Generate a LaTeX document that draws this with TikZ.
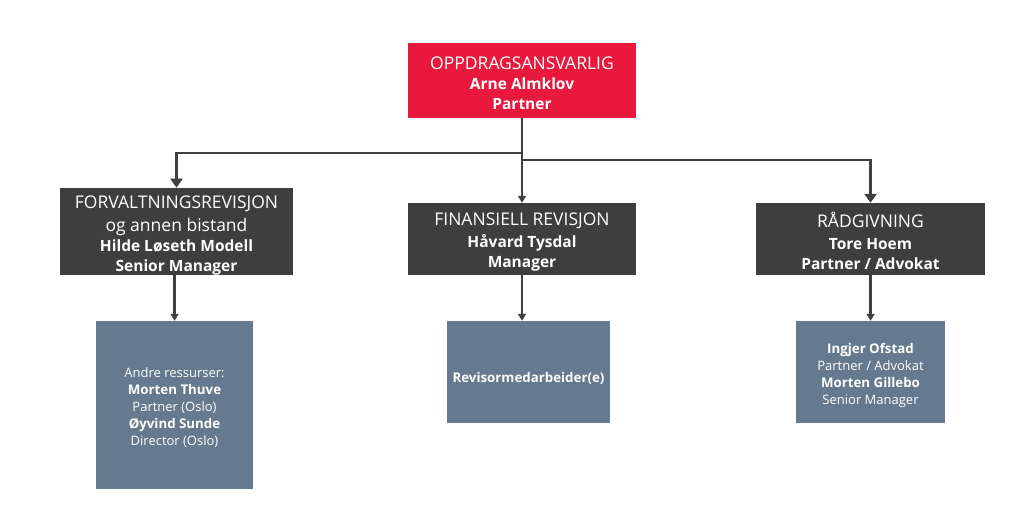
\documentclass[tikz,border=0pt]{standalone}
\usepackage{fontspec}
\setmainfont{Open Sans}
\usetikzlibrary{arrows.meta}
\definecolor{topred}{HTML}{E8193C}
\definecolor{darkbox}{HTML}{3E3E3E}
\definecolor{bluebox}{HTML}{657A8E}
\definecolor{lineclr}{HTML}{404040}
\tikzset{
  boxbase/.style={rectangle, inner sep=0pt, text=white, align=center},
  redbox/.style={boxbase, fill=topred, font=\fontsize{16}{20}\selectfont},
  darkb/.style={boxbase, fill=darkbox, font=\fontsize{16}{20}\selectfont},
  blueb/.style={boxbase, fill=bluebox, font=\fontsize{13}{17}\selectfont},
  conn/.style={draw=lineclr, line width=2.4pt},
  bigtip/.style={-{Triangle[width=12pt,length=9pt]}},
  smalltip/.style={-{Triangle[width=8pt,length=7pt]}},
}
\newcommand{\hd}{\fontsize{17.5}{20}\selectfont}
\newcommand{\nm}{\fontsize{15.5}{20}\selectfont\bfseries}
\newcommand{\sm}{\fontsize{13}{17}\selectfont}
\newcommand{\smb}{\fontsize{13.3}{17}\selectfont\bfseries}
\newcommand{\tstrut}[1]{\rule{0pt}{#1}}
\begin{document}
\begin{tikzpicture}[x=1pt,y=-1pt]
\useasboundingbox[fill=white] (0,0) rectangle (1024,504);
\node[redbox, minimum width=228pt, minimum height=75pt] (top) at (522,80.5)
  {\tstrut{17.5pt}\hd OPPDRAGSANSVARLIG\\ \nm Arne Almklov\\ \nm Partner};
\node[darkb, minimum width=233pt, minimum height=87pt] (forv) at (176.5,231.5)
  {\tstrut{20.5pt}\hd FORVALTNINGSREVISJON\\[3pt] \hd og annen bistand\\ \nm Hilde Løseth Modell\\ \nm Senior Manager};
\node[darkb, minimum width=228pt, minimum height=72pt] (fin) at (522,239)
  {\tstrut{19.5pt}\hd FINANSIELL REVISJON\\[2pt] \nm Håvard Tysdal\\ \nm Manager};
\node[darkb, minimum width=229pt, minimum height=72pt] (rad) at (870.5,239)
  {\tstrut{19.5pt}\hd RÅDGIVNING\\[2pt] \nm Tore Hoem\\ \nm Partner / Advokat};
\node[blueb, minimum width=157pt, minimum height=168pt] (res) at (174.5,405)
  {\tstrut{16pt}\sm Andre ressurser:\\ \smb Morten Thuve\\ \sm Partner (Oslo)\\ \smb Øyvind Sunde\\ \sm Director (Oslo)};
\node[blueb, minimum width=163pt, minimum height=102pt] (rev) at (528.5,372)
  {\tstrut{24pt}\smb Revisormedarbeider(e)};
\node[blueb, minimum width=149pt, minimum height=102pt] (ing) at (870.5,372)
  {\tstrut{17pt}\smb Ingjer Ofstad\\ \sm Partner / Advokat\\ \smb Morten Gillebo\\ \sm Senior Manager};
\coordinate (jl) at ([yshift=-35pt]top.south);
\coordinate (jr) at ([yshift=-42pt]top.south);
\draw[conn, bigtip] (top.south) -- (jl) -| (forv.north);
\draw[conn, smalltip] (top.south) -- (fin.north);
\draw[conn, bigtip] (jr) -| (rad.north);
\draw[conn, smalltip] (forv.south -| res.north) -- (res.north);
\draw[conn, smalltip] (fin.south) -- (fin.south |- rev.north);
\draw[conn, smalltip] (rad.south) -- (ing.north);
\end{tikzpicture}
\end{document}
